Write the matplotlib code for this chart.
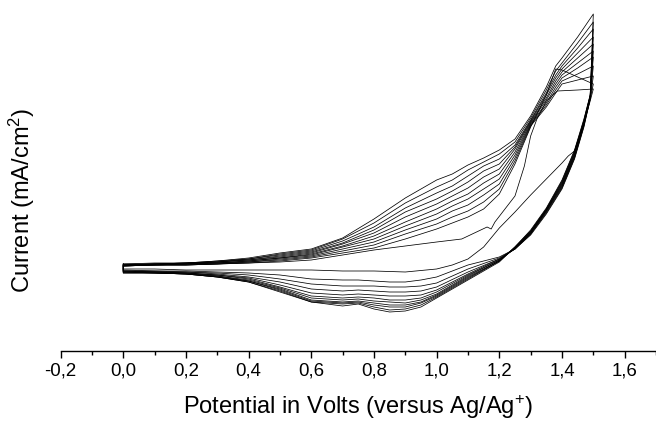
import numpy as np
import matplotlib
matplotlib.use("Agg")
import matplotlib.pyplot as plt
from matplotlib.ticker import MultipleLocator, FuncFormatter

plt.rcParams['font.family'] = ['Liberation Sans', 'DejaVu Sans']
plt.rcParams['mathtext.fontset'] = 'custom'
plt.rcParams['mathtext.rm'] = 'Liberation Sans'
plt.rcParams['mathtext.it'] = 'Liberation Sans'

# ---------------- data (potential in V, current in mA/cm^2) ----------------
# cycle 1 (nucleation loop)
cycle1_anodic_E = [0.0, 0.1, 0.2, 0.3, 0.4, 0.5, 0.6, 0.7, 0.8, 0.9, 1.0, 1.05, 1.1, 1.15,
                   1.2, 1.25, 1.3, 1.35, 1.4, 1.42, 1.44, 1.47, 1.49, 1.5]
cycle1_anodic_I = [-0.02, -0.02, -0.03, -0.03, -0.03, -0.03, -0.03, -0.04, -0.04, -0.05, -0.02,
                   0.02, 0.08, 0.20, 0.39, 0.55, 0.72, 0.88, 1.04, 1.11, 1.16, 1.44, 1.66, 1.78]
cycle1_cathodic_E = [1.5, 1.45, 1.385, 1.35, 1.32, 1.30, 1.28, 1.25, 1.186, 1.174, 1.161, 1.08,
                     1.0, 0.9, 0.8, 0.7, 0.6, 0.5, 0.4, 0.3, 0.2, 0.1, 0.0]
cycle1_cathodic_I = [1.78, 1.77, 1.76, 1.66, 1.48, 1.31, 1.01, 0.71, 0.45, 0.38, 0.40, 0.28,
                     0.25, 0.21, 0.17, 0.12, 0.07, 0.05, 0.04, 0.03, 0.02, 0.02, 0.01]

# cycles 2..11, forward (anodic) scan
anodic_E = [0.0, 0.1, 0.2, 0.3, 0.4, 0.5, 0.6, 0.7, 0.8, 0.9, 1.0, 1.05, 1.1, 1.15,
            1.2, 1.25, 1.3, 1.35, 1.38, 1.4, 1.45, 1.5]
anodic_I = [
    [0.01, 0.02, 0.02, 0.03, 0.04, 0.06, 0.09, 0.14, 0.19, 0.28, 0.38, 0.44, 0.50, 0.58, 0.73, 1.03, 1.40, 1.72, 1.98, 1.97, 1.90, 1.83],
    [0.01, 0.02, 0.02, 0.03, 0.05, 0.07, 0.10, 0.16, 0.22, 0.33, 0.43, 0.50, 0.56, 0.65, 0.78, 1.06, 1.41, 1.60, 1.74, 1.83, 1.87, 1.91],
    [0.01, 0.02, 0.03, 0.04, 0.05, 0.08, 0.11, 0.18, 0.25, 0.37, 0.48, 0.56, 0.62, 0.72, 0.83, 1.09, 1.42, 1.62, 1.77, 1.86, 1.93, 2.01],
    [0.02, 0.02, 0.03, 0.04, 0.06, 0.09, 0.12, 0.20, 0.28, 0.41, 0.53, 0.61, 0.68, 0.78, 0.88, 1.12, 1.43, 1.64, 1.80, 1.89, 1.99, 2.10],
    [0.02, 0.03, 0.03, 0.04, 0.06, 0.09, 0.13, 0.21, 0.31, 0.45, 0.58, 0.66, 0.73, 0.84, 0.93, 1.15, 1.44, 1.67, 1.83, 1.92, 2.04, 2.16],
    [0.02, 0.03, 0.03, 0.05, 0.07, 0.10, 0.14, 0.23, 0.34, 0.50, 0.63, 0.71, 0.79, 0.90, 0.98, 1.18, 1.45, 1.69, 1.86, 1.95, 2.09, 2.23],
    [0.02, 0.03, 0.04, 0.05, 0.07, 0.11, 0.15, 0.24, 0.37, 0.55, 0.68, 0.76, 0.85, 0.96, 1.03, 1.20, 1.46, 1.72, 1.89, 1.98, 2.14, 2.30],
    [0.02, 0.03, 0.04, 0.05, 0.08, 0.12, 0.16, 0.26, 0.40, 0.59, 0.74, 0.81, 0.91, 1.01, 1.08, 1.22, 1.47, 1.74, 1.92, 2.01, 2.19, 2.38],
    [0.03, 0.03, 0.04, 0.06, 0.08, 0.13, 0.17, 0.28, 0.44, 0.64, 0.80, 0.87, 0.97, 1.05, 1.13, 1.25, 1.49, 1.77, 1.96, 2.04, 2.24, 2.45],
    [0.03, 0.04, 0.04, 0.06, 0.09, 0.14, 0.18, 0.29, 0.48, 0.69, 0.87, 0.93, 1.02, 1.09, 1.17, 1.28, 1.51, 1.80, 2.01, 2.09, 2.30, 2.53],
]

# cycles 2..11, reverse (cathodic) scan
cathodic_E = [1.5, 1.49, 1.47, 1.44, 1.4, 1.35, 1.3, 1.25, 1.2, 1.1, 1.0, 0.95, 0.9, 0.85,
              0.8, 0.75, 0.7, 0.6, 0.5, 0.4, 0.3, 0.2, 0.1, 0.0]
cathodic_I = [
    [1.83, 1.68, 1.40, 1.08, 0.78, 0.53, 0.32, 0.18, 0.10, 0.02, -0.10, -0.13, -0.15, -0.15, -0.14, -0.13, -0.13, -0.12, -0.08, -0.06, -0.05, -0.04, -0.04, -0.03],
    [1.91, 1.68, 1.41, 1.09, 0.79, 0.54, 0.33, 0.18, 0.09, -0.02, -0.16, -0.19, -0.20, -0.20, -0.19, -0.19, -0.19, -0.17, -0.12, -0.08, -0.06, -0.05, -0.04, -0.04],
    [2.01, 1.69, 1.42, 1.10, 0.80, 0.55, 0.33, 0.18, 0.08, -0.05, -0.20, -0.24, -0.25, -0.25, -0.24, -0.23, -0.24, -0.22, -0.15, -0.10, -0.07, -0.05, -0.05, -0.04],
    [2.10, 1.69, 1.43, 1.11, 0.81, 0.56, 0.34, 0.18, 0.08, -0.07, -0.23, -0.28, -0.29, -0.29, -0.28, -0.27, -0.28, -0.26, -0.18, -0.11, -0.08, -0.06, -0.05, -0.04],
    [2.16, 1.70, 1.44, 1.12, 0.82, 0.56, 0.34, 0.19, 0.07, -0.08, -0.25, -0.31, -0.33, -0.33, -0.31, -0.30, -0.31, -0.29, -0.20, -0.12, -0.08, -0.06, -0.05, -0.05],
    [2.23, 1.70, 1.44, 1.13, 0.83, 0.57, 0.35, 0.19, 0.07, -0.09, -0.27, -0.33, -0.36, -0.35, -0.34, -0.32, -0.33, -0.31, -0.21, -0.13, -0.09, -0.06, -0.05, -0.05],
    [2.30, 1.71, 1.45, 1.14, 0.84, 0.57, 0.35, 0.19, 0.06, -0.10, -0.28, -0.35, -0.38, -0.38, -0.36, -0.34, -0.35, -0.33, -0.22, -0.14, -0.09, -0.07, -0.06, -0.05],
    [2.38, 1.71, 1.46, 1.15, 0.85, 0.58, 0.36, 0.20, 0.06, -0.11, -0.29, -0.36, -0.40, -0.40, -0.38, -0.35, -0.36, -0.34, -0.23, -0.14, -0.10, -0.07, -0.06, -0.05],
    [2.45, 1.72, 1.47, 1.16, 0.86, 0.58, 0.36, 0.20, 0.06, -0.12, -0.30, -0.38, -0.42, -0.43, -0.40, -0.36, -0.37, -0.35, -0.24, -0.15, -0.10, -0.07, -0.06, -0.06],
    [2.53, 1.72, 1.48, 1.17, 0.87, 0.59, 0.37, 0.20, 0.05, -0.13, -0.31, -0.40, -0.44, -0.45, -0.42, -0.37, -0.39, -0.35, -0.25, -0.15, -0.10, -0.07, -0.06, -0.06],
]

x_ticks = [-0.2, 0.0, 0.2, 0.4, 0.6, 0.8, 1.0, 1.2, 1.4, 1.6]

# ---------------- figure ----------------
W, H = 656, 427
fig = plt.figure(figsize=(W / 100, H / 100), dpi=100)
ax = fig.add_axes([60.6 / W, (H - 351.7) / H, 1 - 60.6 / W, (351.7 - 5) / H])

lw = 0.55
col = 'black'

# cycle 1 closed loop
E1 = list(cycle1_anodic_E) + list(cycle1_cathodic_E) + [cycle1_anodic_E[0]]
I1 = list(cycle1_anodic_I) + list(cycle1_cathodic_I) + [cycle1_anodic_I[0]]
ax.plot(E1, I1, color=col, lw=lw)

for ia, ic in zip(anodic_I, cathodic_I):
    E = list(anodic_E) + list(cathodic_E) + [anodic_E[0]]
    I = list(ia) + list(ic) + [ia[0]]
    ax.plot(E, I, color=col, lw=lw)

ax.set_xlim(-0.2, 1.7)
ax.set_ylim((268 - 351.7) / 100, (268 - 5) / 100)

for s in ['top', 'right', 'left']:
    ax.spines[s].set_visible(False)
ax.spines['bottom'].set_linewidth(1.0)
ax.set_yticks([])

ax.set_xticks(x_ticks)
ax.xaxis.set_minor_locator(MultipleLocator(0.1))
ax.xaxis.set_major_formatter(FuncFormatter(lambda v, p: f"{v:.1f}".replace('.', ',')))
ax.tick_params(axis='x', which='major', direction='out', length=5, width=1.0,
               labelsize=13.4, pad=3)
ax.tick_params(axis='x', which='minor', direction='out', length=2.6, width=1.0)

fig.text(358 / W, (H - 414) / H, 'Potential in Volts (versus Ag/Ag$^{+}$)',
         ha='center', va='baseline', fontsize=17)
fig.text(22 / W, (H - 200) / H, 'Current (mA/cm$^{2}$)', rotation=90,
         ha='center', va='center', fontsize=17)

fig.savefig('out.png', dpi=100)
